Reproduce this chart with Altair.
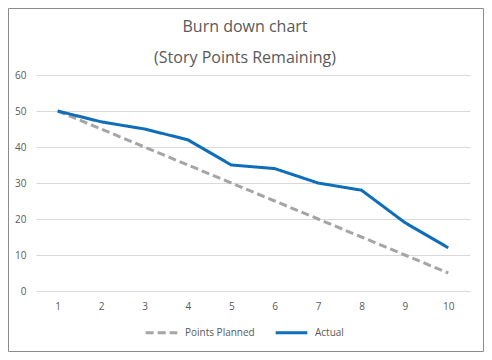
import altair as alt
import pandas as pd

days = [1, 2, 3, 4, 5, 6, 7, 8, 9, 10]
planned = [50, 45, 40, 35, 30, 25, 20, 15, 10, 5]
actual = [50, 47, 45, 42, 35, 34, 30, 28, 19, 12]
series_names = ["Points Planned", "Actual"]
title_lines = ["Burn down chart", "(Story Points Remaining)"]

rows = []
for d, v in zip(days, planned):
    rows.append({"day": d, "value": v, "series": series_names[0]})
for d, v in zip(days, actual):
    rows.append({"day": d, "value": v, "series": series_names[1]})
df = pd.DataFrame(rows)

FONT = "Open Sans"
TXT = "#595959"

legend_opts = dict(title=None, orient="none", legendX=108, legendY=240,
                   direction="horizontal", symbolType="stroke",
                   symbolSize=1000, symbolStrokeWidth=3,
                   labelFont=FONT, labelFontSize=10, labelColor=TXT,
                   columnPadding=14, labelOffset=6)

lines = alt.Chart(df).mark_line(strokeWidth=3, strokeCap="butt").encode(
    x=alt.X("day:Q", scale=alt.Scale(domain=[0.5, 10.5], nice=False, zero=False),
            axis=alt.Axis(values=days, title=None, grid=False, ticks=False, domain=False,
                          labelPadding=10, labelColor=TXT, labelFontSize=10, labelFont=FONT,
                          format="d")),
    y=alt.Y("value:Q", scale=alt.Scale(domain=[0, 60], nice=False),
            axis=alt.Axis(values=[0, 10, 20, 30, 40, 50, 60], title=None, ticks=False,
                          domain=False, gridColor="#D9D9D9", gridWidth=1,
                          labelPadding=10, labelColor=TXT, labelFontSize=10, labelFont=FONT)),
    color=alt.Color("series:N", scale=alt.Scale(domain=series_names, range=["#A5A5A5", "#0F6EBA"]),
                    legend=alt.Legend(**legend_opts)),
    strokeDash=alt.StrokeDash("series:N",
                              scale=alt.Scale(domain=series_names, range=[[8, 4], [1, 0]]),
                              legend=alt.Legend(**legend_opts)),
    order=alt.Order("day:Q"),
)

border = alt.Chart(alt.Data(values=[{}])).mark_rect(
    fill=None, stroke="#8C8C8C", strokeWidth=1
).encode(
    x=alt.value(-27.5), x2=alt.value(447.5), y=alt.value(-66.5), y2=alt.value(276.5)
)

title = alt.Chart(alt.Data(values=[{"t": "\n".join(title_lines)}])).mark_text(
    font=FONT, fontSize=16, color=TXT, align="center", baseline="alphabetic",
    lineBreak="\n", lineHeight=31,
).encode(
    text="t:N", x=alt.value(209), y=alt.value(-43)
)

chart = alt.layer(border, title, lines).properties(
    width=434, height=216,
    autosize=alt.AutoSizeParams(type="none"),
    padding={"left": 28, "top": 67, "right": 14, "bottom": 61},
).configure_view(stroke=None)

chart.save("out.html", embed_options={"renderer": "svg", "actions": False})
